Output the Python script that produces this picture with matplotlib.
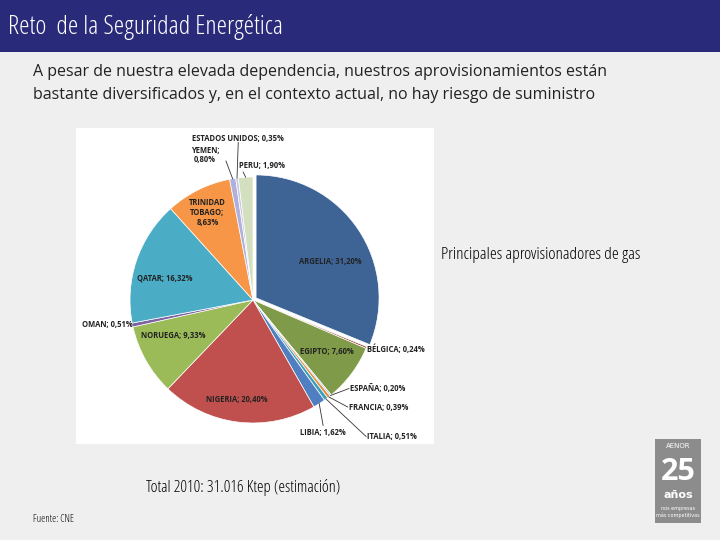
import numpy as np
import matplotlib.pyplot as plt
from matplotlib.patches import Rectangle

paises = ['ARGELIA', 'BÉLGICA', 'EGIPTO', 'ESPAÑA', 'FRANCIA', 'ITALIA', 'LIBIA', 'NIGERIA',
          'NORUEGA', 'OMAN', 'QATAR', 'TRINIDAD\nTOBAGO', 'YEMEN', 'ESTADOS UNIDOS', 'PERU']
porcentajes = [31.20, 0.24, 7.60, 0.20, 0.39, 0.51, 1.62, 20.40, 9.33, 0.51, 16.32, 8.63, 0.80, 0.35, 1.90]
etiquetas = ['ARGELIA; 31,20%', 'BÉLGICA; 0,24%', 'EGIPTO; 7,60%', 'ESPAÑA; 0,20%', 'FRANCIA; 0,39%',
             'ITALIA; 0,51%', 'LIBIA; 1,62%', 'NIGERIA; 20,40%', 'NORUEGA; 9,33%', 'OMAN; 0,51%',
             'QATAR; 16,32%', 'TRINIDAD\nTOBAGO;\n8,63%', 'YEMEN;\n0,80%', 'ESTADOS UNIDOS; 0,35%', 'PERU; 1,90%']
colores = ['#3e6496', '#a0463e', '#7f9a48', '#9cc3d8', '#e28a3c', '#3f9fb8', '#4f7fc0', '#c0504d',
           '#9bbb59', '#7c62a0', '#4bacc6', '#f79646', '#b0b0dc', '#c8c8e4', '#d3dfbf']

fig = plt.figure(figsize=(7.2, 5.4), dpi=100)
fig.patch.set_facecolor('#efefef')

def caja(x0, y0, w, h, color):
    # rectángulo en píxeles de la diapositiva (origen arriba a la izquierda)
    fig.patches.append(Rectangle((x0 / 720, 1 - (y0 + h) / 540), w / 720, h / 540,
                                 transform=fig.transFigure, facecolor=color,
                                 edgecolor='none', zorder=-5))

NARROW = dict(family='Open Sans', stretch='condensed')

caja(0, 0, 720, 52, '#2a2a7a')
fig.text(8 / 720, 1 - 27 / 540, 'Reto  de la Seguridad Energética', color='white', fontsize=19,
         va='center', **NARROW)
fig.text(33 / 720, 1 - 72 / 540, 'A pesar de nuestra elevada dependencia, nuestros aprovisionamientos están',
         fontsize=11.5, va='center', family='Open Sans', color='#222222')
fig.text(33 / 720, 1 - 95 / 540, 'bastante diversificados y, en el contexto actual, no hay riesgo de suministro',
         fontsize=11.5, va='center', family='Open Sans', color='#222222')

caja(76, 128, 358, 316, 'white')

r = 123
ax = fig.add_axes([(253 - r) / 720, 1 - (300 + r) / 540, 2 * r / 720, 2 * r / 540])
ax.patch.set_visible(False)
explode = [0.03] + [0] * (len(porcentajes) - 1)
wedges, _ = ax.pie(porcentajes, colors=colores, startangle=90, counterclock=False, explode=explode,
                   wedgeprops=dict(edgecolor='white', linewidth=0.5))
ax.set_aspect('equal')
ax.set_xlim(-1.0, 1.0)
ax.set_ylim(-1.0, 1.0)

# posiciones de etiquetas (x, y, ha)
pos = {0: (0.63, 0.31, 'center'), 1: (0.93, -0.40, 'left'), 2: (0.60, -0.42, 'center'),
       3: (0.79, -0.72, 'left'), 4: (0.78, -0.87, 'left'), 5: (0.93, -1.11, 'left'),
       6: (0.57, -1.08, 'center'), 7: (-0.13, -0.81, 'center'), 8: (-0.65, -0.29, 'center'),
       9: (-1.39, -0.20, 'left'), 10: (-0.72, 0.18, 'center'), 11: (-0.37, 0.71, 'center'),
       12: (-0.39, 1.18, 'center'), 13: (-0.50, 1.31, 'left'), 14: (-0.11, 1.09, 'left')}
# etiquetas con línea guía y el punto de enganche junto al texto
guias = {3: (0.78, -0.72), 4: (0.77, -0.87), 5: (0.92, -1.11), 6: (0.57, -1.02),
         12: (-0.22, 1.13), 13: (-0.12, 1.28), 14: (-0.08, 1.04)}
for i, lab in enumerate(etiquetas):
    x, y, ha = pos[i]
    ax.text(x, y, lab, fontsize=5.5, fontweight='bold', ha=ha, va='center', color='#222222',
            clip_on=False, linespacing=1.1, **NARROW)
    if i in guias:
        w = wedges[i]
        ang = np.deg2rad((w.theta1 + w.theta2) / 2)
        ax.plot([np.cos(ang), guias[i][0]], [np.sin(ang), guias[i][1]], color='#333333',
                lw=0.6, clip_on=False)

fig.text(441 / 720, 1 - 255 / 540, 'Principales aprovisionadores de gas', fontsize=12.5,
         va='center', color='black', **NARROW)
fig.text(146 / 720, 1 - 488 / 540, 'Total 2010: 31.016 Ktep (estimación)', fontsize=12,
         va='center', color='black', **NARROW)
fig.text(33 / 720, 1 - 519 / 540, 'Fuente: CNE', fontsize=7.5, va='center', **NARROW)

# logo AENOR
caja(655, 439, 46, 84, '#8c8c8c')
fig.text(678 / 720, 1 - 446 / 540, 'AENOR', color='white', fontsize=5, ha='center', va='center')
fig.text(678 / 720, 1 - 472 / 540, '25', color='white', fontsize=22, ha='center', va='center',
         fontweight='bold', **NARROW)
fig.text(678 / 720, 1 - 495 / 540, 'años', color='white', fontsize=8, ha='center', va='center',
         fontweight='bold')
fig.text(678 / 720, 1 - 512 / 540, 'nos empresas\nmás competitivas', color='white', fontsize=3.5,
         ha='center', va='center')

fig.savefig('out.png', dpi=100)
